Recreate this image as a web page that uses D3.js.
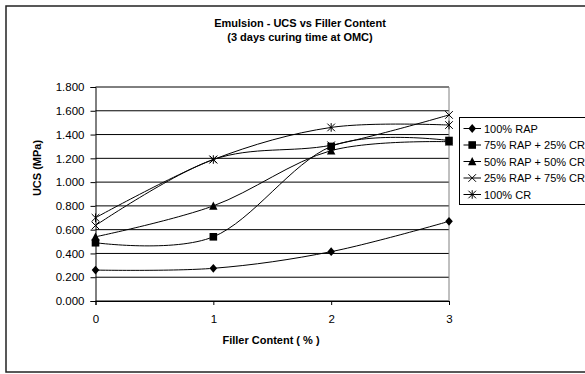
<!DOCTYPE html>
<html>
<head>
<meta charset="utf-8">
<script src="https://cdn.jsdelivr.net/npm/d3@7"></script>
<style>
  html, body { margin: 0; padding: 0; background: #fff; }
  svg { display: block; font-family: "Liberation Sans", Arial, sans-serif; }
</style>
</head>
<body>
<svg id="chart" width="585" height="374"></svg>
<script>
// Filler content (%) on the x axis
const fillerContent = [0, 1, 2, 3];

// UCS (MPa) after 3 days curing, one array per blend
const rap100      = [0.260, 0.275, 0.415, 0.670];
const rap75cr25   = [0.490, 0.540, 1.300, 1.350];
const rap50cr50   = [0.540, 0.800, 1.265, 1.340];
const rap25cr75   = [0.635, 1.190, 1.310, 1.565];
const cr100       = [0.700, 1.190, 1.460, 1.480];

const seriesNames = ["100% RAP", "75% RAP + 25% CR", "50% RAP + 50% CR", "25% RAP + 75% CR", "100% CR"];
const seriesValues = [rap100, rap75cr25, rap50cr50, rap25cr75, cr100];
const seriesMarkers = ["diamond", "square", "triangle", "cross", "asterisk"];

const yTicks = [0, 0.2, 0.4, 0.6, 0.8, 1.0, 1.2, 1.4, 1.6, 1.8];

const svg = d3.select("#chart");

// outer chart frame
svg.append("rect")
  .attr("x", 6).attr("y", 6)
  .attr("width", 640).attr("height", 366)
  .attr("fill", "#fff").attr("stroke", "#222").attr("stroke-width", 1.5);

const plot = { left: 95.5, right: 449, top: 87, bottom: 301 };

const x = d3.scaleLinear().domain([0, 3]).range([plot.left, plot.right]);
const y = d3.scaleLinear().domain([0, 1.8]).range([plot.bottom, plot.top]);

// horizontal gridlines
svg.append("g")
  .selectAll("line")
  .data(yTicks)
  .join("line")
  .attr("x1", plot.left).attr("x2", plot.right)
  .attr("y1", d => y(d)).attr("y2", d => y(d))
  .attr("stroke", "#000").attr("stroke-width", 1);

// plot area right border
svg.append("line")
  .attr("x1", plot.right).attr("x2", plot.right)
  .attr("y1", plot.top).attr("y2", plot.bottom)
  .attr("stroke", "#808080").attr("stroke-width", 1);

// y axis
const yAxis = svg.append("g")
  .attr("transform", `translate(${plot.left},0)`)
  .call(d3.axisLeft(y).tickValues(yTicks).tickFormat(d3.format(".3f")).tickSize(5).tickPadding(6));
yAxis.select(".domain").attr("stroke", "#000");
yAxis.selectAll("text").attr("font-size", 11.5).attr("fill", "#000")
  .attr("font-family", "Liberation Sans, Arial, sans-serif");

// x axis
const xAxis = svg.append("g")
  .attr("transform", `translate(0,${plot.bottom})`)
  .call(d3.axisBottom(x).tickValues(fillerContent).tickFormat(d3.format("d")).tickSize(4).tickPadding(10));
xAxis.select(".domain").attr("stroke", "#000");
xAxis.selectAll("text").attr("font-size", 11.5).attr("fill", "#000")
  .attr("font-family", "Liberation Sans, Arial, sans-serif");

// smoothed series lines
const line = d3.line()
  .x((d, i) => x(fillerContent[i]))
  .y(d => y(d))
  .curve(d3.curveCatmullRom.alpha(0));

svg.append("g")
  .selectAll("path")
  .data(seriesValues)
  .join("path")
  .attr("d", d => line(d))
  .attr("fill", "none")
  .attr("stroke", "#000")
  .attr("stroke-width", 1);

// marker shapes
function drawMarker(g, type, cx, cy) {
  const s = 3.8;
  if (type === "diamond") {
    g.append("path").attr("d", `M${cx},${cy - s - 0.6}L${cx + s},${cy}L${cx},${cy + s + 0.6}L${cx - s},${cy}Z`).attr("fill", "#000");
  } else if (type === "square") {
    g.append("rect").attr("x", cx - s).attr("y", cy - s).attr("width", 2 * s).attr("height", 2 * s).attr("fill", "#000");
  } else if (type === "triangle") {
    g.append("path").attr("d", `M${cx},${cy - s - 0.6}L${cx + s + 0.4},${cy + s}L${cx - s - 0.4},${cy + s}Z`).attr("fill", "#000");
  } else if (type === "cross") {
    g.append("path").attr("d", `M${cx - s},${cy - s}L${cx + s},${cy + s}M${cx - s},${cy + s}L${cx + s},${cy - s}`)
      .attr("stroke", "#000").attr("stroke-width", 1).attr("fill", "none");
  } else if (type === "asterisk") {
    g.append("path").attr("d", `M${cx - s},${cy - s}L${cx + s},${cy + s}M${cx - s},${cy + s}L${cx + s},${cy - s}M${cx},${cy - s - 0.5}L${cx},${cy + s + 0.5}`)
      .attr("stroke", "#000").attr("stroke-width", 1).attr("fill", "none");
  }
}

const markers = svg.append("g");
seriesValues.forEach((vals, si) => {
  vals.forEach((v, i) => drawMarker(markers, seriesMarkers[si], x(fillerContent[i]), y(v)));
});

// titles
svg.append("text").attr("x", 300).attr("y", 27).attr("text-anchor", "middle")
  .attr("font-size", 11).attr("font-weight", "bold").text("Emulsion - UCS vs Filler Content");
svg.append("text").attr("x", 300).attr("y", 41).attr("text-anchor", "middle")
  .attr("font-size", 11).attr("font-weight", "bold").text("(3 days curing time at OMC)");

svg.append("text").attr("x", 271).attr("y", 344).attr("text-anchor", "middle")
  .attr("font-size", 11).attr("font-weight", "bold").text("Filler Content ( % )");

svg.append("text")
  .attr("transform", `translate(41,168) rotate(-90)`)
  .attr("text-anchor", "middle")
  .attr("font-size", 11).attr("font-weight", "bold").text("UCS (MPa)");

// legend
const legend = svg.append("g");
legend.append("rect")
  .attr("x", 459.5).attr("y", 117.5).attr("width", 200).attr("height", 87)
  .attr("fill", "#fff").attr("stroke", "#000").attr("stroke-width", 1);

seriesNames.forEach((name, i) => {
  const ly = 128.5 + i * 16.5;
  legend.append("line").attr("x1", 463.5).attr("x2", 481).attr("y1", ly).attr("y2", ly)
    .attr("stroke", "#000").attr("stroke-width", 1);
  drawMarker(legend, seriesMarkers[i], 472.2, ly);
  legend.append("text").attr("x", 484).attr("y", ly + 4)
    .attr("font-size", 11).text(name);
});
</script>
</body>
</html>
